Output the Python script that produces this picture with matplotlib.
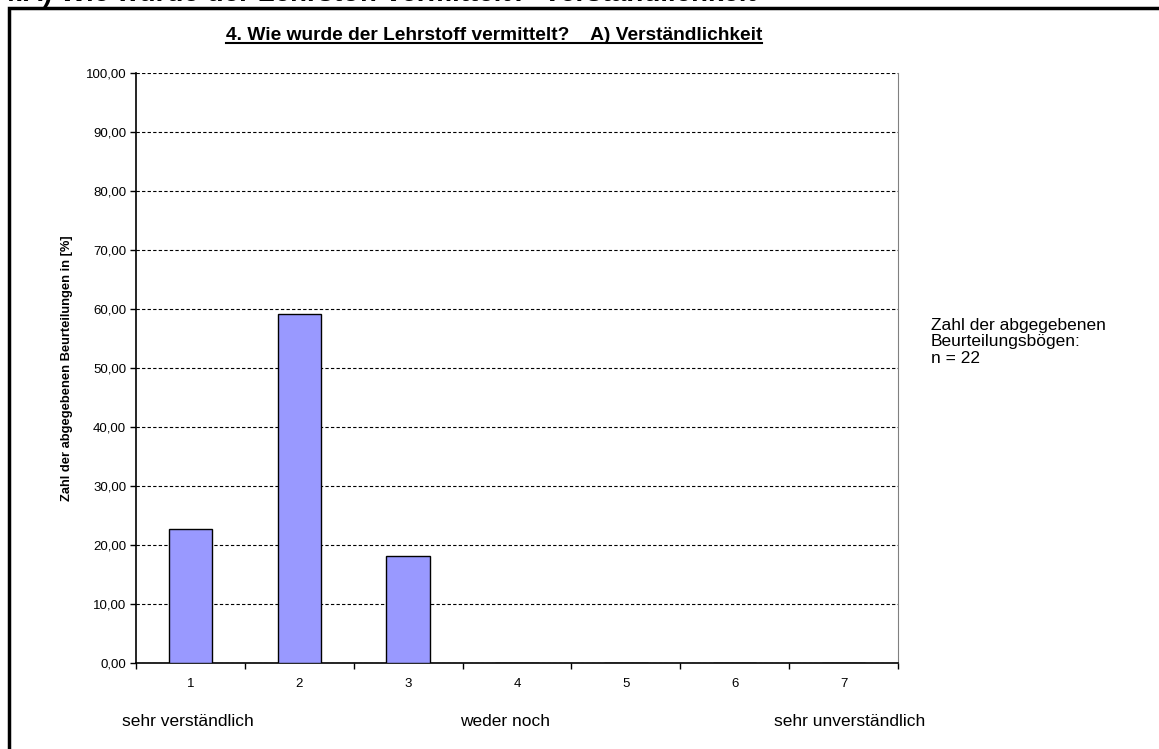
import numpy as np
import matplotlib.pyplot as plt
from matplotlib.patches import Rectangle
from matplotlib.lines import Line2D

plt.rcParams['font.family'] = ['Liberation Sans', 'DejaVu Sans']

# Anteil der Beurteilungen je Stufe (n = 22)
categories = ['1', '2', '3', '4', '5', '6', '7']
percent = [22.73, 59.09, 18.18, 0.0, 0.0, 0.0, 0.0]
y_ticks = [0, 10, 20, 30, 40, 50, 60, 70, 80, 90, 100]
scale_labels = ['sehr verständlich', 'weder noch', 'sehr unverständlich']

W, H = 1159, 749
fig = plt.figure(figsize=(W / 100, H / 100), dpi=100)

# plot area in pixels: left 136, right 898, top 73, bottom 663
ax = fig.add_axes([136 / W, 1 - 663 / H, (898 - 136) / W, (663 - 73) / H])

x = np.arange(1, len(categories) + 1)
ax.bar(x, percent, width=0.4, color='#9999ff', edgecolor='black', linewidth=1, zorder=3)

ax.set_xlim(0.5, 7.5)
ax.set_ylim(0, 100)
ax.set_yticks(y_ticks)
ax.set_yticklabels([('%.2f' % v).replace('.', ',') for v in y_ticks])
ax.yaxis.grid(True, linestyle=(0, (3, 2)), color='black', linewidth=0.8, zorder=0)

ax.set_xticks(x)
ax.set_xticklabels(categories)
ax.set_xticks(np.arange(0.5, 8.0, 1.0), minor=True)
ax.tick_params(axis='x', which='major', length=0, pad=11, labelsize=9.5)
ax.tick_params(axis='x', which='minor', length=4, width=1, direction='out')
ax.tick_params(axis='y', length=4, width=1, direction='out', labelsize=9.5, pad=3)

ax.spines['top'].set_visible(False)
ax.spines['right'].set_color('#808080')
ax.spines['left'].set_linewidth(1.2)
ax.spines['bottom'].set_linewidth(1.2)

ax.set_ylabel('Zahl der abgegebenen Beurteilungen in [%]', fontsize=9.3,
              fontweight='bold', labelpad=9)

# bottom scale labels
for xp, lab in zip([188, 505, 850], scale_labels):
    fig.text(xp / W, 1 - 721 / H, lab, fontsize=12.5, ha='center', va='center')

# note at the right
fig.text(931 / W, 1 - 318 / H, 'Zahl der abgegebenen\nBeurteilungsbögen:\nn = 22',
         fontsize=12.5, ha='left', va='top', linespacing=1.12)

# chart title, underlined
title = fig.text(494 / W, 1 - 35 / H, '4. Wie wurde der Lehrstoff vermittelt?    A) Verständlichkeit',
                 fontsize=13.8, fontweight='bold', ha='center', va='center')
fig.canvas.draw()
bb = title.get_window_extent(renderer=fig.canvas.get_renderer())
fig.add_artist(Line2D([bb.x0 / W, bb.x1 / W], [(bb.y0 + 1) / H, (bb.y0 + 1) / H],
                      color='black', linewidth=1.5, transform=fig.transFigure))

# header of the page, mostly cut off at the top
fig.text(0 / W, 1 - 1 / H, '4.A) Wie wurde der Lehrstoff vermittelt?  Verständlichkeit',
         fontsize=20, fontweight='bold', ha='left', va='baseline')

# outer frame of the chart object (runs off the right and bottom edge)
fig.add_artist(Rectangle((9 / W, -0.05), 1.2, 1 - 8 / H + 0.05, fill=False,
                         edgecolor='black', linewidth=2.5, transform=fig.transFigure))

fig.savefig('out.png', dpi=100)
